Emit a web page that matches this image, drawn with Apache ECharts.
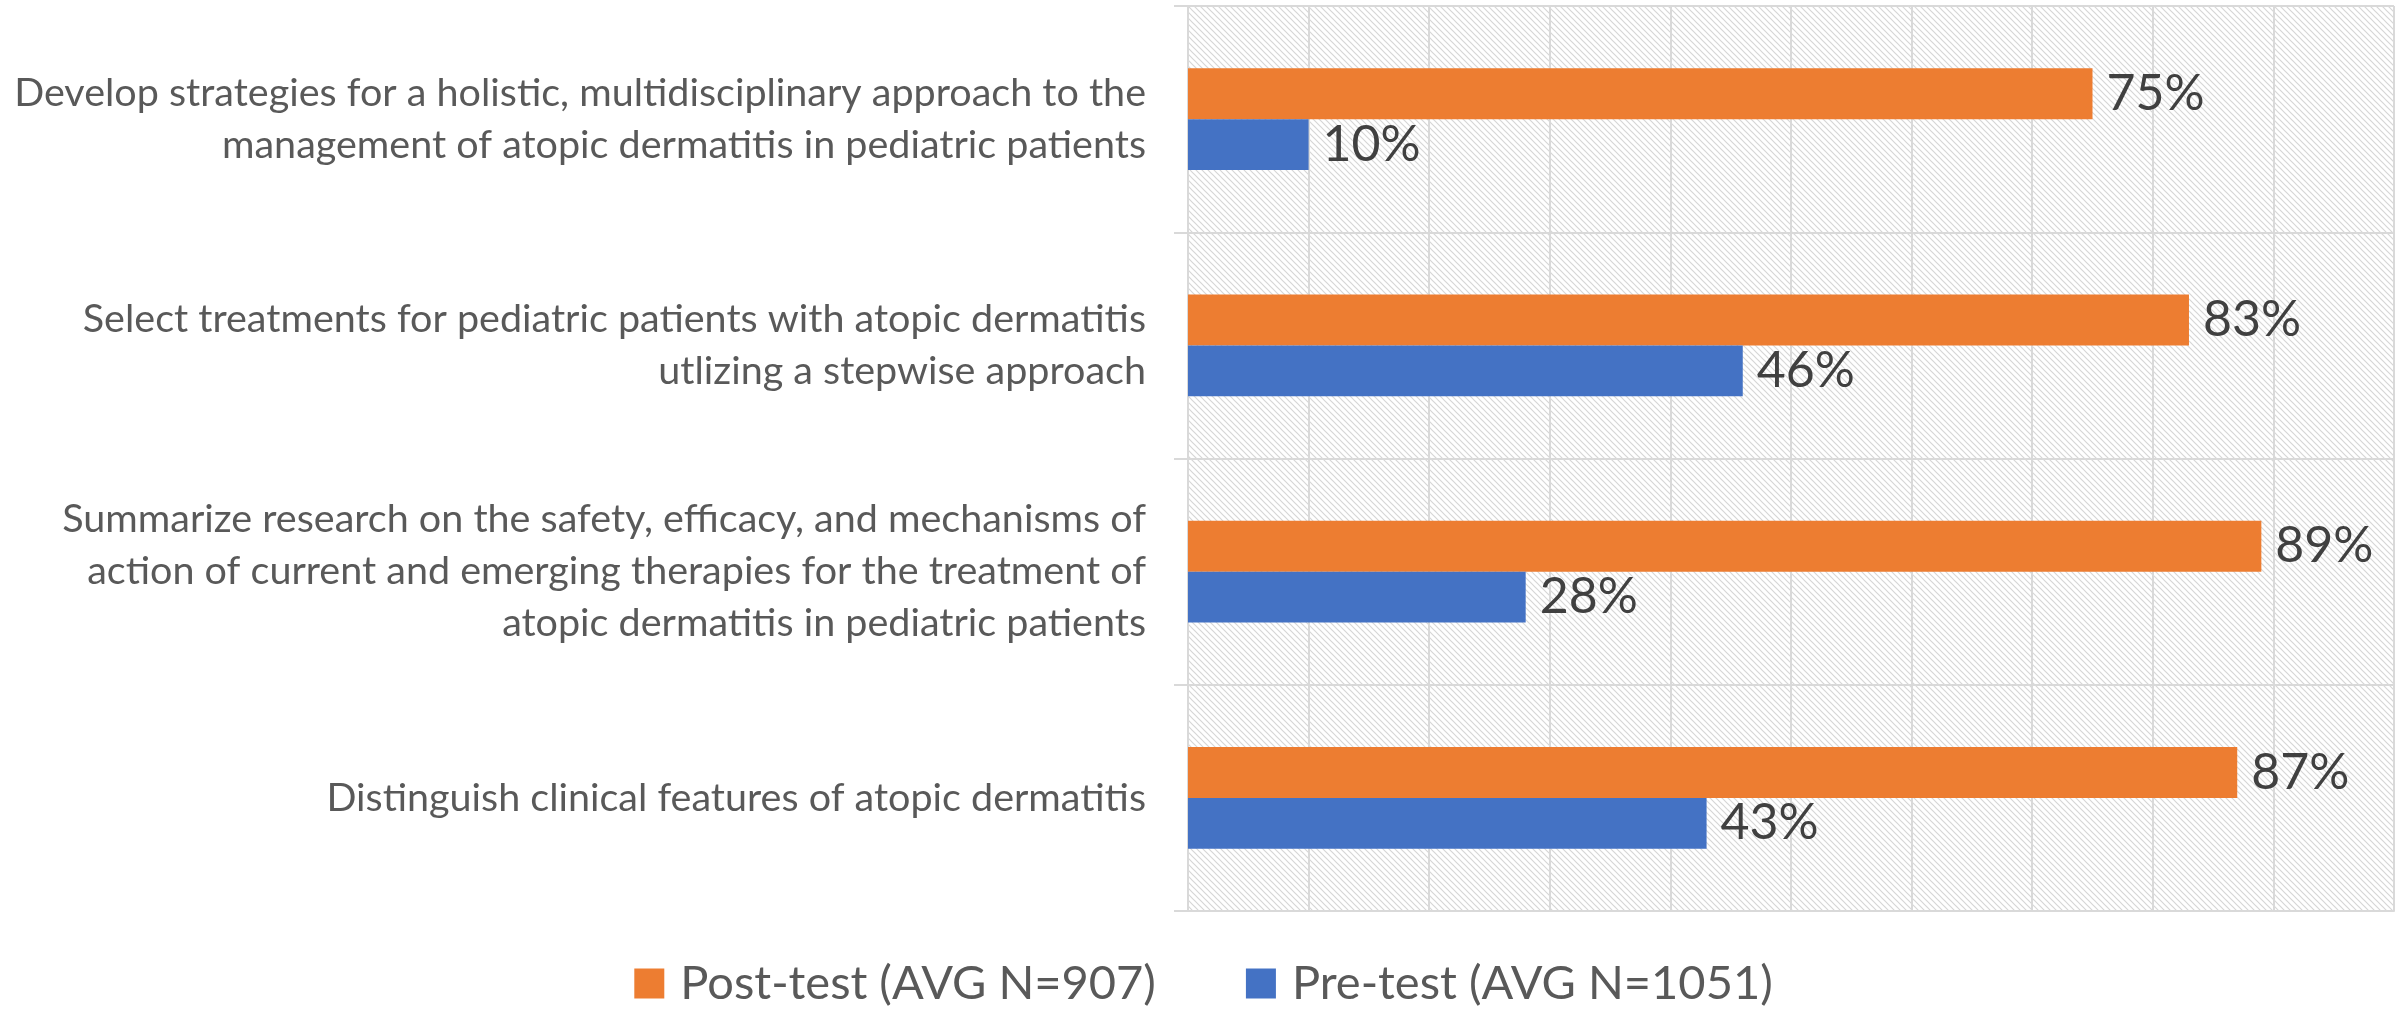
<!DOCTYPE html>
<html>
<head>
<meta charset="utf-8">
<script src="https://cdn.jsdelivr.net/npm/echarts@6/dist/echarts.min.js"></script>
<style>
html,body{margin:0;padding:0;background:#fff;}
#chart{width:2407px;height:1009px;}
</style>
</head>
<body>
<div id="chart"></div>
<script>
var categories = [
  "Develop strategies for a holistic, multidisciplinary approach to the\nmanagement of atopic dermatitis in pediatric patients",
  "Select treatments for pediatric patients with atopic dermatitis\nutlizing a stepwise approach",
  "Summarize research on the safety, efficacy, and mechanisms of\naction of current and emerging therapies for the treatment of\natopic dermatitis in pediatric patients",
  "Distinguish clinical features of atopic dermatitis"
];
var seriesNames = ["Post-test (AVG N=907)", "Pre-test (AVG N=1051)"];
var postTest = [75, 83, 89, 87];
var preTest = [10, 46, 28, 43];

var T = 6;
var tile = document.createElement('canvas');
tile.width = T; tile.height = T;
var ctx = tile.getContext('2d');
ctx.fillStyle = '#ffffff';
ctx.fillRect(0, 0, T, T);
ctx.strokeStyle = '#d6d6d6';
ctx.lineWidth = 1.2;
ctx.beginPath();
ctx.moveTo(-1, -1); ctx.lineTo(T + 1, T + 1);
ctx.moveTo(-1, T - 1); ctx.lineTo(1, T + 1);
ctx.moveTo(T - 1, -1); ctx.lineTo(T + 1, 1);
ctx.stroke();

var chart = echarts.init(document.getElementById('chart'));
var labelStyle = {
  show: true, position: 'right', distance: 14,
  formatter: '{c}%', color: '#404040', fontSize: 50, fontFamily: 'Lato'
};
chart.setOption({
  animation: false,
  grid: {
    left: 1188, top: 6, right: 13, bottom: 98,
    show: true, borderWidth: 0,
    backgroundColor: {image: tile, repetition: 'repeat'}
  },
  legend: {
    data: seriesNames,
    top: 955, left: 'center',
    itemWidth: 30, itemHeight: 30, itemGap: 90,
    icon: 'rect',
    textStyle: {fontSize: 47, color: '#595959', fontFamily: 'Lato', padding: [0, 0, 0, 11]}
  },
  xAxis: {
    type: 'value', min: 0, max: 100, interval: 10,
    axisLabel: {show: false},
    axisTick: {show: false},
    axisLine: {show: true, lineStyle: {color: '#d9d9d9', width: 2}},
    splitLine: {show: true, lineStyle: {color: '#d9d9d9', width: 2}}
  },
  yAxis: {
    type: 'category', data: categories, inverse: true,
    axisLine: {show: true, lineStyle: {color: '#d9d9d9', width: 2}},
    axisTick: {show: true, length: 14, lineStyle: {color: '#d9d9d9', width: 2}},
    splitLine: {show: true, lineStyle: {color: '#d9d9d9', width: 2}},
    axisLabel: {
      margin: 42, color: '#595959', fontSize: 39.5, fontFamily: 'Lato',
      lineHeight: 52, align: 'right'
    }
  },
  series: [
    {name: seriesNames[0], type: 'bar', data: postTest, barGap: '0%', barCategoryGap: '55%',
     itemStyle: {color: '#ED7D31'}, label: labelStyle},
    {name: seriesNames[1], type: 'bar', data: preTest, barGap: '0%', barCategoryGap: '55%',
     itemStyle: {color: '#4472C4'}, label: labelStyle}
  ]
});
</script>
</body>
</html>
